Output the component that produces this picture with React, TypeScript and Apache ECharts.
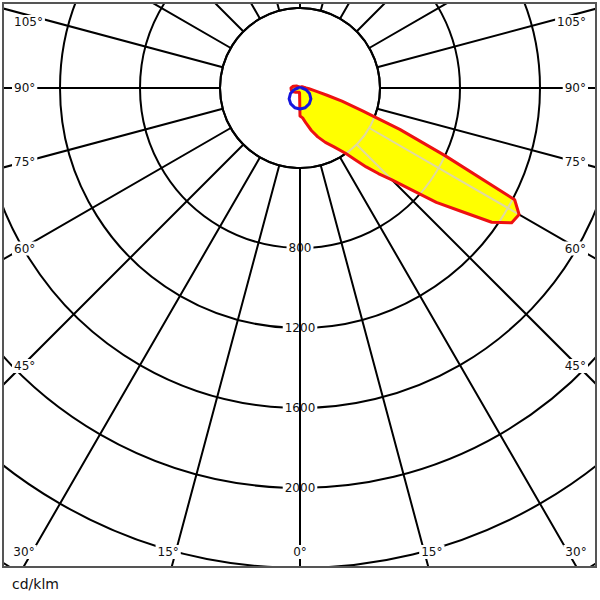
import React, { useEffect, useRef } from 'react';
import * as echarts from 'echarts';

// ---- Grid / tick data ----
const radiusTicks = [400, 800, 1200, 1600, 2000, 2400, 2800, 3200];
const radiusLabels = [800, 1200, 1600, 2000];
const spokeAngles = [0, 15, 30, 45, 60, 75, 90, 105, 120, 135, 150, 165, 180, 195, 210, 225, 240, 255, 270, 285, 300, 315, 330, 345];
const angleLabels = [0, 15, 30, 45, 60, 75, 90, 105];
const unitLabel = 'cd/klm';

// ---- C0 half-plane (drawn on the right), gamma in degrees -> cd/klm ----
const c0Gamma = [0, 5, 10, 15, 20, 25, 30, 35, 37.5, 40, 42.5, 45, 47.5, 50, 52.5, 55, 57.5, 60, 62.5, 65, 67.5, 70, 72.5, 75, 77.5, 80, 85, 90, 95, 100, 110, 120, 135, 150, 165, 180];
const c0Values = [140, 150, 180, 220, 260, 300, 340, 400, 450, 515, 580, 650, 750, 890, 1010, 1170, 1255, 1265, 1210, 800, 540, 330, 220, 140, 95, 70, 45, 30, 25, 20, 15, 12, 8, 5, 3, 2];

// ---- C180 half-plane (drawn on the left) ----
const c180Gamma = [0, 5, 10, 15, 20, 30, 45, 60, 75, 90, 105, 120, 135, 150, 165, 180];
const c180Values = [140, 25, 22, 22, 22, 25, 30, 38, 45, 45, 35, 20, 10, 5, 3, 2];

// ---- C90 (right) / C270 (left) ----
const c90Gamma = [0, 15, 30, 45, 60, 75, 90, 105, 120, 150, 180];
const c90Values = [105, 102, 92, 77, 55, 30, 10, 4, 2, 1, 0];
const c270Gamma = [0, 15, 30, 45, 60, 75, 90, 105, 120, 150, 180];
const c270Values = [105, 102, 92, 77, 55, 30, 10, 4, 2, 1, 0];

// ---- layout ----
const CX = 300;
const CY = 88;
const R0 = 80;
const R1 = 640;
const BOX = { x0: 3, y0: 3, x1: 596, y1: 567 };
const FONT = 'Tahoma, Verdana, "DejaVu Sans", sans-serif';

function buildCurve(rg: number[], rv: number[], lg: number[], lv: number[]) {
  const pts: number[][] = [];
  for (let i = rg.length - 1; i >= 0; i--) pts.push([rv[i], rg[i]]);
  for (let i = 1; i < lg.length; i++) pts.push([lv[i], 360 - lg[i]]);
  pts.push(pts[0]);
  return pts;
}

const redCurve = buildCurve(c0Gamma, c0Values, c180Gamma, c180Values);
const blueCurve = buildCurve(c90Gamma, c90Values, c270Gamma, c270Values);

function angleLabelElements() {
  const els: any[] = [];
  angleLabels.forEach((g) => {
    const sides = g === 0 ? [1] : [-1, 1];
    sides.forEach((s) => {
      const rad = (g * Math.PI) / 180;
      const sin = Math.sin(rad);
      const cos = Math.cos(rad);
      const yAtSide = sin > 1e-6 ? CY + ((CX - 22) * cos) / sin : Infinity;
      let x: number;
      let y: number;
      let align: string;
      if (yAtSide <= 552) {
        y = Math.max(22, yAtSide);
        x = s < 0 ? 12 : 588;
        align = s < 0 ? 'left' : 'right';
      } else {
        x = CX + (s * (BOX.y1 + 13 - CY) * sin) / cos;
        x = s < 0 ? Math.max(24, x) : Math.min(576, x);
        y = 552;
        align = 'center';
      }
      els.push({
        type: 'text',
        x,
        y,
        z: 10,
        silent: true,
        style: {
          text: g + '°',
          fill: '#111',
          fontSize: 12,
          fontFamily: FONT,
          align,
          verticalAlign: 'middle',
          backgroundColor: '#fff',
          padding: [1, 2],
        },
      });
    });
  });
  return els;
}

function curveSeries(curve: number[][], color: string, z: number, name: string) {
  return {
    type: 'custom',
    coordinateSystem: 'polar',
    name,
    z,
    silent: true,
    data: [[0, 0]],
    renderItem: (_params: any, api: any) => ({
      type: 'polyline',
      shape: { points: curve.map((p) => api.coord([p[0], p[1]])) },
      style: { fill: 'none', stroke: color, lineWidth: 3, lineJoin: 'round' },
    }),
  };
}

export default function App() {
  const ref = useRef<HTMLDivElement>(null);

  useEffect(() => {
    if (!ref.current) return;
    const chart = echarts.init(ref.current, undefined, { renderer: 'svg' });

    const option: any = {
      animation: false,
      backgroundColor: '#fff',
      polar: { center: [CX, CY], radius: [R0, R1] },
      angleAxis: {
        type: 'value',
        min: 0,
        max: 360,
        interval: 15,
        startAngle: 270,
        clockwise: false,
        axisLine: { show: true, lineStyle: { color: '#000', width: 2 } },
        axisTick: { show: false },
        axisLabel: { show: false },
        splitLine: { show: true, lineStyle: { color: '#000', width: 2 } },
      },
      radiusAxis: {
        type: 'value',
        min: radiusTicks[0],
        max: radiusTicks[radiusTicks.length - 1],
        interval: 400,
        axisLine: { show: false },
        axisTick: { show: false },
        axisLabel: { show: false },
        splitLine: { show: true, lineStyle: { color: '#000', width: 2 } },
      },
      series: [
        {
          type: 'custom',
          coordinateSystem: 'polar',
          z: 2,
          silent: true,
          data: [[0, 0]],
          renderItem: (params: any, api: any) => {
            const cs = params.coordSys;
            const pts = redCurve.map((p) => api.coord([p[0], p[1]]));
            const grid: any[] = [];
            radiusTicks.forEach((v) => {
              const p = api.coord([v, 0]);
              const r = Math.hypot(p[0] - cs.cx, p[1] - cs.cy);
              grid.push({
                type: 'circle',
                shape: { cx: cs.cx, cy: cs.cy, r },
                style: { fill: 'none', stroke: '#e0d9a0', lineWidth: 2 },
              });
            });
            spokeAngles.forEach((a) => {
              const p0 = api.coord([radiusTicks[0], a]);
              const p1 = api.coord([radiusTicks[radiusTicks.length - 1], a]);
              grid.push({
                type: 'line',
                shape: { x1: p0[0], y1: p0[1], x2: p1[0], y2: p1[1] },
                style: { stroke: '#e0d9a0', lineWidth: 2 },
              });
            });
            return {
              type: 'group',
              children: [
                { type: 'polygon', shape: { points: pts }, style: { fill: '#ffff00', stroke: 'none' } },
                { type: 'group', children: grid, clipPath: { type: 'polygon', shape: { points: pts } } },
              ],
            };
          },
        },
        curveSeries(redCurve, '#ee1111', 3, 'C0-C180'),
        curveSeries(blueCurve, '#1515dd', 4, 'C90-C270'),
        {
          type: 'custom',
          coordinateSystem: 'polar',
          z: 5,
          silent: true,
          data: radiusLabels.map((v) => [v, 0]),
          renderItem: (_params: any, api: any) => {
            const v = api.value(0);
            const a = api.value(1);
            const p = api.coord([v, a]);
            const pIn = api.coord([v - 40, a]);
            const pOut = api.coord([v + 40, a]);
            return {
              type: 'group',
              children: [
                {
                  type: 'text',
                  x: p[0],
                  y: p[1],
                  style: {
                    text: String(v),
                    fill: '#111',
                    fontSize: 12,
                    fontFamily: FONT,
                    align: 'center',
                    verticalAlign: 'middle',
                    backgroundColor: '#fff',
                    padding: [1, 2],
                  },
                },
                {
                  type: 'line',
                  shape: { x1: pIn[0], y1: pIn[1], x2: pOut[0], y2: pOut[1] },
                  style: { stroke: '#000', lineWidth: 2 },
                },
              ],
            };
          },
        },
      ],
      graphic: {
        elements: [
          ...angleLabelElements(),
          { type: 'rect', z: 20, silent: true, shape: { x: 0, y: 0, width: 600, height: BOX.y0 }, style: { fill: '#fff' } },
          { type: 'rect', z: 20, silent: true, shape: { x: 0, y: 0, width: BOX.x0, height: 600 }, style: { fill: '#fff' } },
          { type: 'rect', z: 20, silent: true, shape: { x: BOX.x1, y: 0, width: 600 - BOX.x1, height: 600 }, style: { fill: '#fff' } },
          { type: 'rect', z: 20, silent: true, shape: { x: 0, y: BOX.y1, width: 600, height: 600 - BOX.y1 }, style: { fill: '#fff' } },
          {
            type: 'rect',
            z: 21,
            silent: true,
            shape: { x: BOX.x0, y: BOX.y0, width: BOX.x1 - BOX.x0, height: BOX.y1 - BOX.y0 },
            style: { fill: 'none', stroke: '#555', lineWidth: 2 },
          },
          {
            type: 'text',
            z: 21,
            silent: true,
            x: 12,
            y: 584,
            style: { text: unitLabel, fill: '#111', fontSize: 14, fontFamily: FONT, align: 'left', verticalAlign: 'middle' },
          },
        ],
      },
    };

    chart.setOption(option);
    return () => chart.dispose();
  }, []);

  return (
    <div
      ref={ref}
      style={{ position: 'fixed', left: 0, top: 0, width: 600, height: 600, background: '#fff' }}
    />
  );
}
